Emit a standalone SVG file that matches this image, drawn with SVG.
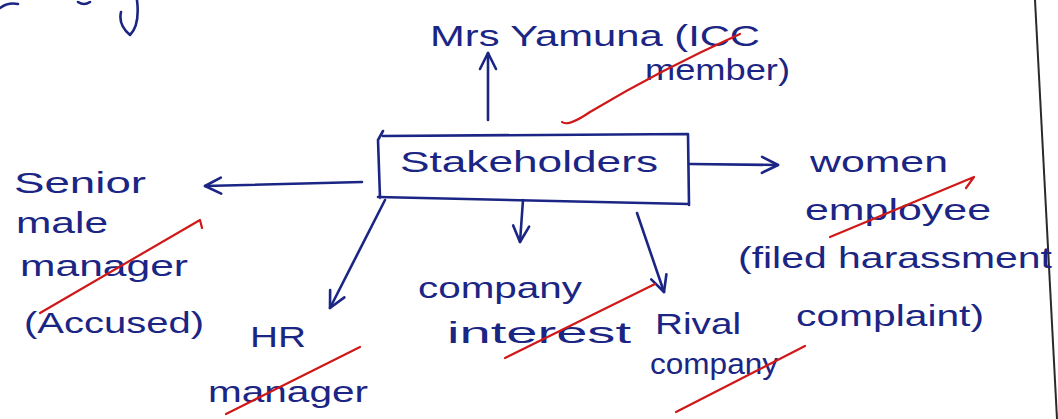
<svg xmlns="http://www.w3.org/2000/svg" width="1058" height="419" viewBox="0 0 1058 419">
<defs>
<style>
.t{font-family:"Liberation Sans","DejaVu Sans",sans-serif;fill:#1b2584;font-size:30px}
.ink{fill:none;stroke:#1b2584;stroke-width:2.6;stroke-linecap:round;stroke-linejoin:round}
.red{fill:none;stroke:#d01818;stroke-width:2.2;stroke-linecap:round;stroke-linejoin:round}
</style>
<marker id="ah" viewBox="0 0 20 20" refX="18" refY="10" markerWidth="20" markerHeight="20" markerUnits="userSpaceOnUse" orient="auto">
<path d="M2,2 L18,10 L2,18" fill="none" stroke="#1b2584" stroke-width="2.6" stroke-linecap="round" stroke-linejoin="round"/>
</marker>
</defs>
<rect width="1058" height="419" fill="#ffffff"/>
<path d="M1035,0 L1057,419" stroke="#2a2a2a" stroke-width="2" fill="none"/>
<path class="ink" d="M0,8 Q8,2 18,4 M78,2 Q84,6 90,2 M137,0 Q140,25 130,35 Q118,25 121,12"/>

<g id="stakeholders">
<path class="ink" d="M383,131 L378,140 L380,198 M383,136 L688,134 L689,205 M378,197 L689,204"/>
<text class="t" x="400" y="172" textLength="258" lengthAdjust="spacingAndGlyphs" font-size="32">Stakeholders</text>
</g>

<g id="connectors">
<path class="ink" d="M488,120 L488,53" marker-end="url(#ah)"/>
<path class="ink" d="M362,182 L205,186" marker-end="url(#ah)"/>
<path class="ink" d="M385,200 L330,308" marker-end="url(#ah)"/>
<path class="ink" d="M523,200 L520,242" marker-end="url(#ah)"/>
<path class="ink" d="M637,213 L664,292" marker-end="url(#ah)"/>
<path class="ink" d="M690,164 L778,165" marker-end="url(#ah)"/>
</g>

<g id="yamuna">
<text class="t" x="430" y="46" textLength="330" lengthAdjust="spacingAndGlyphs">Mrs Yamuna (ICC</text>
<text class="t" x="645" y="80" textLength="145" lengthAdjust="spacingAndGlyphs">member)</text>
<path class="red" d="M562,122 Q568,127 590,112 Q660,70 740,34"/>
</g>

<g id="senior">
<text class="t" x="14" y="193" textLength="132" lengthAdjust="spacingAndGlyphs">Senior</text>
<text class="t" x="16" y="233" textLength="92" lengthAdjust="spacingAndGlyphs">male</text>
<text class="t" x="20" y="276" textLength="168" lengthAdjust="spacingAndGlyphs">manager</text>
<text class="t" x="24" y="333" textLength="180" lengthAdjust="spacingAndGlyphs">(Accused)</text>
<path class="red" d="M40,313 L200,220 L202,228"/>
</g>

<g id="hr">
<text class="t" x="250" y="347" textLength="56" lengthAdjust="spacingAndGlyphs">HR</text>
<text class="t" x="208" y="402" textLength="160" lengthAdjust="spacingAndGlyphs">manager</text>
<path class="red" d="M226,414 L360,347"/>
</g>

<g id="company-interest">
<text class="t" x="418" y="298" textLength="164" lengthAdjust="spacingAndGlyphs">company</text>
<text class="t" x="447" y="343" textLength="184" lengthAdjust="spacingAndGlyphs">interest</text>
<path class="red" d="M505,358 L655,284"/>
</g>

<g id="rival">
<text class="t" x="655" y="334" textLength="86" lengthAdjust="spacingAndGlyphs">Rival</text>
<text class="t" x="650" y="374" textLength="128" lengthAdjust="spacingAndGlyphs">company</text>
<path class="red" d="M676,412 L805,346"/>
</g>

<g id="women">
<text class="t" x="810" y="172" textLength="138" lengthAdjust="spacingAndGlyphs">women</text>
<text class="t" x="805" y="220" textLength="186" lengthAdjust="spacingAndGlyphs">employee</text>
<text class="t" x="738" y="268" textLength="314" lengthAdjust="spacingAndGlyphs">(filed harassment</text>
<text class="t" x="796" y="326" textLength="188" lengthAdjust="spacingAndGlyphs">complaint)</text>
<path class="red" d="M830,237 L974,177 L966,188"/>
</g>
</svg>
